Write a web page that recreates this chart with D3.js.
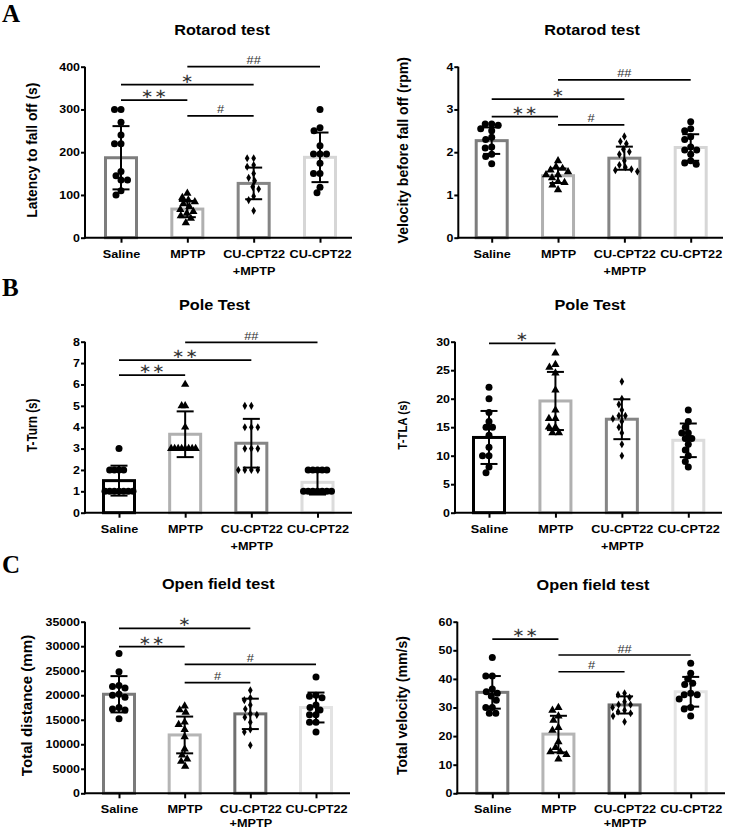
<!DOCTYPE html>
<html><head><meta charset="utf-8">
<script src="https://cdn.jsdelivr.net/npm/d3@7"></script>
<style>body{margin:0;background:#fff}svg{display:block}</style>
</head><body>
<svg id="c" width="747" height="828"></svg>
<script>
// ---------- data ----------
const categories = ["Saline", "MPTP", "CU-CPT22\n+MPTP", "CU-CPT22"];
const markerShapes = ["circle", "triangle", "diamond", "circle"];

// A left: Rotarod latency (s)
const latencySaline = [300, 300, 270, 240, 220, 220, 155, 145, 135, 135, 110, 100];
const latencyMPTP   = [104, 94, 88, 84, 79, 73, 66, 61, 57, 51, 45, 35];
const latencyCUMPTP = [186, 186, 170, 166, 150, 140, 133, 119, 114, 97, 88, 63];
const latencyCU     = [300, 257, 250, 215, 196, 196, 196, 174, 150, 150, 118, 105];
const latencyMean = [187, 67, 127, 188];
const latencySD   = [74, 19, 37, 58];
const latencyTicks = [0, 100, 200, 300, 400];
const latencySig = [[1, 3, 400, "##"], [0, 2, 358, "*"], [0, 1, 322, "**"], [1, 2, 285, "#"]];

// A right: Rotarod velocity (rpm)
const velocitySaline = [2.66, 2.63, 2.66, 2.55, 2.50, 2.35, 2.30, 2.12, 2.10, 1.95, 1.90, 1.73];
const velocityMPTP   = [1.80, 1.66, 1.62, 1.58, 1.54, 1.47, 1.47, 1.40, 1.31, 1.29, 1.23, 1.12];
const velocityCUMPTP = [2.37, 2.25, 2.20, 2.07, 2.01, 1.95, 1.80, 1.70, 1.65, 1.60, 1.58, 1.55];
const velocityCU     = [2.71, 2.55, 2.50, 2.36, 2.30, 2.12, 2.05, 2.05, 1.95, 1.80, 1.75, 1.72];
const velocityMean = [2.27, 1.45, 1.86, 2.11];
const velocitySD   = [0.31, 0.17, 0.27, 0.31];
const velocityTicks = [0, 1, 2, 3, 4];
const velocitySig = [[1, 3, 3.69, "##"], [0, 2, 3.24, "*"], [0, 1, 2.83, "**"], [1, 2, 2.64, "#"]];

// B left: Pole test T-Turn (s)
const turnSaline = [3, 2, 2, 2, 2, 1, 1, 1, 1, 1, 1, 1];
const turnMPTP   = [6, 5, 5, 4, 3, 3, 3, 3, 3, 3, 3, 3];
const turnCUMPTP = [5, 5, 4, 4, 4, 3, 3, 3, 2, 2, 2, 2];
const turnCU     = [2, 2, 2, 2, 2, 1, 1, 1, 1, 1, 1, 1];
const turnMean = [1.5, 3.67, 3.25, 1.42];
const turnSD   = [0.7, 1.07, 1.14, 0.57];
const turnTicks = [0, 1, 2, 3, 4, 5, 6, 7, 8];
const turnSig = [[1, 3, 7.97, "##"], [0, 2, 7.14, "**"], [0, 1, 6.44, "**"]];

// B right: Pole test T-TLA (s)
const tlaSaline = [22, 20, 17.6, 16, 15, 15, 13.6, 11.5, 10, 10, 8, 7];
const tlaMPTP   = [28, 26, 25.5, 24.5, 21.5, 18, 16.5, 16.5, 15, 15, 14, 14];
const tlaCUMPTP = [23, 20, 19, 18, 17, 17, 16.5, 16, 15, 14, 12, 10];
const tlaCU     = [18, 16, 15, 14, 14, 13, 13, 12, 11, 10, 9, 8];
const tlaMean = [13.2, 19.6, 16.4, 12.7];
const tlaSD   = [4.65, 5.1, 3.5, 2.95];
const tlaTicks = [0, 5, 10, 15, 20, 25, 30];
const tlaSig = [[0, 1, 29.7, "*"]];

// C left: Open field total distance (mm)
const distSaline = [28500, 24800, 22000, 21800, 21500, 20200, 20000, 19600, 17500, 17200, 17000, 15200];
const distMPTP   = [17800, 17000, 16500, 14500, 14000, 13000, 11500, 9000, 7800, 7000, 6500, 5500];
const distCUMPTP = [21000, 19500, 19000, 18000, 17200, 16200, 16000, 15500, 14500, 13000, 12500, 9800];
const distCU     = [23700, 20000, 19800, 19500, 18000, 17500, 17000, 16000, 16000, 14500, 14500, 12500];
const distMean = [20200, 11900, 16200, 17500];
const distSD   = [3700, 3750, 3100, 3050];
const distTicks = [0, 5000, 10000, 15000, 20000, 25000, 30000, 35000];
const distSig = [[0, 2, 33640, "*"], [0, 1, 29900, "**"], [1, 3, 26300, "#"], [1, 2, 22560, "#"]];

// C right: Open field total velocity (mm/s)
const tvSaline = [47.5, 41, 41, 36.5, 35.5, 35, 34, 32.5, 30, 30, 28, 28];
const tvMPTP   = [30, 29, 27, 25.5, 23, 22, 18, 16, 14.5, 14.5, 13.5, 12];
const tvCUMPTP = [35, 34.5, 33.5, 32, 31, 31, 30, 29, 28.5, 28, 27, 25];
const tvCU     = [45.5, 42, 40, 38.5, 38, 35, 34.5, 34.5, 33, 30, 29.5, 27];
const tvMean = [35.3, 20.7, 30.9, 35.5];
const tvSD   = [5.7, 6.4, 3.0, 5.2];
const tvTicks = [0, 10, 20, 30, 40, 50, 60];
const tvSig = [[0, 1, 53.9, "**"], [1, 3, 48.35, "##"], [1, 2, 42.5, "#"]];

// ---------- layout / style ----------
const colorsA = ["#7d7d7d", "#b0b0b0", "#858585", "#d6d6d6"];
const colorsB = ["#000000", "#b0b0b0", "#858585", "#dcdcdc"];
const colorsC = ["#7a7a7a", "#b5b5b5", "#707070", "#e3e3e3"];

const panels = [
  {title: "Rotarod  test", ylabel: "Latency to fall off (s)", groups: [latencySaline, latencyMPTP, latencyCUMPTP, latencyCU],
   mean: latencyMean, sd: latencySD, ticks: latencyTicks, sig: latencySig, colors: colorsA,
   x0: 85, x1: 352, first: 121, last: 320, yTop: 66.7, yBot: 237.7, titleX: 222, titleY: 35, labelX: 32, labelFs: 13.8, labelSX: 1, xl2: 1.55},
  {title: "Rotarod  test", ylabel: "Velocity before fall off (rpm)", groups: [velocitySaline, velocityMPTP, velocityCUMPTP, velocityCU],
   mean: velocityMean, sd: velocitySD, ticks: velocityTicks, sig: velocitySig, colors: colorsA,
   x0: 458.3, x1: 723, first: 491.7, last: 690.7, yTop: 66.7, yBot: 237.7, titleX: 592, titleY: 35, labelX: 403, labelFs: 14.1, labelSX: 1, xl2: 1.55},
  {title: "Pole Test", ylabel: "T-Turn (s)", groups: [turnSaline, turnMPTP, turnCUMPTP, turnCU],
   mean: turnMean, sd: turnSD, ticks: turnTicks, sig: turnSig, colors: colorsB,
   x0: 85, x1: 352, first: 119, last: 317.5, yTop: 341.7, yBot: 512.7, titleX: 214.5, titleY: 310, labelX: 32, labelFs: 11.8, labelSX: 1.2, xl2: 1.55},
  {title: "Pole Test", ylabel: "T-TLA (s)", groups: [tlaSaline, tlaMPTP, tlaCUMPTP, tlaCU],
   mean: tlaMean, sd: tlaSD, ticks: tlaTicks, sig: tlaSig, colors: colorsB,
   x0: 455, x1: 722, first: 489, last: 688.3, yTop: 341.7, yBot: 512.7, titleX: 590, titleY: 310, labelX: 402, labelFs: 11.4, labelSX: 1.2, xl2: 1.55},
  {title: "Open field test", ylabel: "Total distance (mm)", groups: [distSaline, distMPTP, distCUMPTP, distCU],
   mean: distMean, sd: distSD, ticks: distTicks, sig: distSig, colors: colorsC,
   x0: 85, x1: 350, first: 119, last: 316, yTop: 621.7, yBot: 793.3, titleX: 218.3, titleY: 589, labelX: 27, labelFs: 15.1, labelSX: 1, xl2: 1.22},
  {title: "Open field test", ylabel: "Total velocity (mm/s)", groups: [tvSaline, tvMPTP, tvCUMPTP, tvCU],
   mean: tvMean, sd: tvSD, ticks: tvTicks, sig: tvSig, colors: colorsC,
   x0: 457.3, x1: 725, first: 492.3, last: 690.7, yTop: 621.7, yBot: 793.3, titleX: 593, titleY: 590, labelX: 402, labelFs: 14.1, labelSX: 1, xl2: 1.22}
];
const panelLetters = [["A", 22], ["B", 296], ["C", 573]];

const SX = 1.17;
const SANS = "'Liberation Sans', Arial, Helvetica, sans-serif";
const svg = d3.select("#c");

function dodge(ys, minD, maxHalf) {
  const order = ys.map((y, i) => i).sort((a, b) => ys[a] - ys[b]);
  const placed = [], xs = new Array(ys.length);
  order.forEach(i => {
    const y = ys[i];
    let best = null;
    for (let k = 0; k < 400 && best === null; k++) {
      const cands = k === 0 ? [0] : [-k * 0.5, k * 0.5];
      for (const c of cands) {
        if (placed.every(p => (p.x - c) ** 2 + (p.y - y) ** 2 >= minD * minD)) { best = c; break; }
      }
    }
    xs[i] = best; placed.push({x: best, y});
  });
  const m = d3.max(xs, v => Math.abs(v));
  const f = m > maxHalf ? maxHalf / m : 1;
  return xs.map(v => v * f);
}

const symGen = {
  triangle: d3.symbol().type(d3.symbolTriangle).size(30),
  diamond: d3.symbol().type(d3.symbolDiamond).size(19)
};

panelLetters.forEach(([t, yb]) => {
  svg.append("text").attr("x", 2).attr("y", yb).text(t)
    .attr("font-family", "'Liberation Serif', 'Times New Roman', serif")
    .attr("font-weight", "bold").attr("font-size", 25);
});

panels.forEach(p => {
  const g = svg.append("g");
  const x = d3.scalePoint().domain(d3.range(categories.length)).range([p.first, p.last]);
  const y = d3.scaleLinear().domain([0, d3.max(p.ticks)]).range([p.yBot, p.yTop]);

  // title
  g.append("text").attr("transform", `translate(${p.titleX},${p.titleY}) scale(${SX},1)`)
    .attr("text-anchor", "middle").attr("font-family", SANS).attr("font-weight", "bold")
    .attr("font-size", 13.9).text(p.title);

  // y label
  g.append("text").attr("transform", `translate(${p.labelX},${(p.yTop + p.yBot) / 2 - 2}) scale(${p.labelSX},1) rotate(-90)`)
    .attr("text-anchor", "middle").attr("dy", "0.35em").attr("font-family", SANS).attr("font-weight", "bold")
    .attr("font-size", p.labelFs).text(p.ylabel);

  // bars
  g.selectAll("rect.bar").data(p.mean).join("rect").attr("class", "bar")
    .attr("x", (d, i) => x(i) - 15.5).attr("width", 31)
    .attr("y", d => y(d)).attr("height", d => y(0) - y(d))
    .attr("fill", "#fff").attr("stroke", (d, i) => p.colors[i]).attr("stroke-width", 3);

  // points
  p.groups.forEach((vals, gi) => {
    const ys = vals.map(v => y(v));
    const xs = dodge(ys, 6.3, 14);
    const shape = markerShapes[gi];
    const pts = vals.map((v, k) => ({cx: x(gi) + xs[k], cy: ys[k]}));
    if (shape === "circle") {
      g.append("g").selectAll("circle").data(pts).join("circle")
        .attr("cx", d => d.cx).attr("cy", d => d.cy).attr("r", 3.5).attr("fill", "#000");
    } else {
      g.append("g").selectAll("path").data(pts).join("path")
        .attr("transform", d => `translate(${d.cx},${d.cy})`)
        .attr("d", symGen[shape]()).attr("fill", "#000");
    }
  });

  // error bars
  const eb = g.append("g").attr("stroke", "#000").attr("stroke-width", 2);
  p.mean.forEach((m, i) => {
    const lo = y(m - p.sd[i]), hi = y(m + p.sd[i]), cx = x(i);
    eb.append("line").attr("x1", cx).attr("x2", cx).attr("y1", lo).attr("y2", hi);
    eb.append("line").attr("x1", cx - 8.5).attr("x2", cx + 8.5).attr("y1", lo).attr("y2", lo);
    eb.append("line").attr("x1", cx - 8.5).attr("x2", cx + 8.5).attr("y1", hi).attr("y2", hi);
  });

  // significance brackets
  p.sig.forEach(([a, b, v, lab]) => {
    const ly = y(v);
    g.append("line").attr("x1", x(a)).attr("x2", x(b)).attr("y1", ly).attr("y2", ly)
      .attr("stroke", "#000").attr("stroke-width", 1.7);
    const mx = (x(a) + x(b)) / 2;
    if (lab.includes("*")) {
      g.append("text").attr("transform", `translate(${mx},${ly - 2}) scale(${SX},1)`)
        .attr("text-anchor", "middle").attr("font-family", "'DejaVu Sans', sans-serif")
        .attr("font-size", 13).attr("fill", "#333").attr("letter-spacing", 0.5)
        .text(lab.replace(/\*/g, "\u2217"));
    } else {
      g.append("text").attr("transform", `translate(${mx},${ly - 2.5}) scale(${SX},1)`)
        .attr("text-anchor", "middle").attr("font-family", SANS)
        .attr("font-size", 11).attr("fill", "#333").text(lab);
    }
  });

  // y axis
  const ya = g.append("g").attr("transform", `translate(${p.x0},0)`)
    .call(d3.axisLeft(y).tickValues(p.ticks).tickSize(4).tickSizeOuter(0).tickFormat(d3.format("d")));
  ya.select(".domain").attr("stroke-width", 2).attr("d", `M0,${p.yBot + 1}V${p.yTop}`);
  ya.selectAll(".tick line").attr("stroke-width", 2);
  ya.selectAll(".tick text").attr("x", -5 / SX).attr("transform", `scale(${SX},1)`)
    .attr("font-family", SANS).attr("font-weight", "bold").attr("font-size", 10.6).attr("fill", "#000");

  // x axis
  const xa = g.append("g").attr("transform", `translate(0,${p.yBot})`)
    .call(d3.axisBottom(x).tickSize(5).tickPadding(7.3).tickFormat(i => categories[i]));
  xa.select(".domain").attr("stroke-width", 2).attr("d", `M${p.x0 - 1},0H${p.x1}`);
  xa.selectAll(".tick line").attr("stroke-width", 2);
  xa.selectAll(".tick text").each(function (i) {
    const t = d3.select(this);
    const lines = categories[i].split("\n");
    t.text(null).attr("dy", null).attr("transform", `scale(${SX},1)`)
      .attr("font-family", SANS).attr("font-weight", "bold").attr("font-size", 10.85).attr("fill", "#000");
    lines.forEach((l, k) => t.append("tspan").attr("x", 0).attr("dy", k === 0 ? "0.71em" : p.xl2 + "em").text(l));
  });
});
</script>
</body></html>
